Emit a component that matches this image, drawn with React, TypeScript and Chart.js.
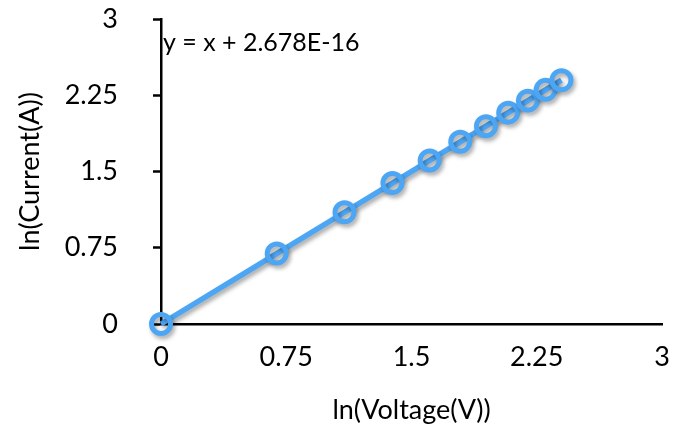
import React, { useEffect, useRef } from "react";
import { Chart, registerables } from "chart.js";

Chart.register(...registerables);

const lnVoltage = [0, 0.693, 1.099, 1.386, 1.609, 1.792, 1.946, 2.079, 2.197, 2.303, 2.398];
const lnCurrent = [0, 0.693, 1.099, 1.386, 1.609, 1.792, 1.946, 2.079, 2.197, 2.303, 2.398];
const tickValues = [0, 0.75, 1.5, 2.25, 3];
const tickLabels = ["0", "0.75", "1.5", "2.25", "3"];
const equationText = "y = x + 2.678E-16";
const xTitle = "ln(Voltage(V))";
const yTitle = "ln(Current(A))";

const FONT = "Lato, 'Open Sans', sans-serif";
const BLUE = "#4DA6F4";

const labelFor = (v: number) => {
  const i = tickValues.findIndex((t) => Math.abs(t - v) < 1e-9);
  return i >= 0 ? tickLabels[i] : "";
};

export default function App() {
  const ref = useRef<HTMLCanvasElement>(null);
  useEffect(() => {
    document.body.style.margin = "0";
    const canvas = ref.current!;
    const shadowPlugin = {
      id: "shadow",
      beforeDatasetDraw(chart: any) {
        const c = chart.ctx;
        c.save();
        c.shadowColor = "rgba(0,0,0,0.35)";
        c.shadowBlur = 4;
        c.shadowOffsetX = 2;
        c.shadowOffsetY = 3;
      },
      afterDatasetDraw(chart: any) {
        chart.ctx.restore();
      },
    };
    const eqPlugin = {
      id: "eq",
      afterDraw(chart: any) {
        const c = chart.ctx;
        c.save();
        c.font = `25px ${FONT}`;
        c.fillStyle = "#000";
        c.textBaseline = "middle";
        c.textAlign = "left";
        c.fillText(equationText, chart.chartArea.left + 2, chart.chartArea.top + 24);
        c.restore();
      },
    };
    const chart = new Chart(canvas, {
      type: "scatter",
      data: {
        datasets: [
          {
            data: lnVoltage.map((x, i) => ({ x, y: lnCurrent[i] })),
            showLine: true,
            clip: false,
            borderColor: BLUE,
            borderWidth: 5.5,
            pointRadius: 9.5,
            pointBorderWidth: 5,
            pointBorderColor: BLUE,
            pointBackgroundColor: "rgba(0,0,0,0)",
          },
        ],
      },
      plugins: [shadowPlugin, eqPlugin],
      options: {
        responsive: false,
        animation: false,
        layout: { autoPadding: false, padding: { top: 19, right: 20, left: 0, bottom: 0 } },
        plugins: { legend: { display: false }, tooltip: { enabled: false } },
        scales: {
          x: {
            type: "linear",
            min: 0,
            max: 3,
            afterBuildTicks: (s: any) => {
              s.ticks = tickValues.map((v) => ({ value: v }));
            },
            afterFit: (s: any) => {
              s.height = 112;
              s.paddingLeft = 0;
              s.paddingRight = 0;
            },
            border: { color: "#000", width: 2.5 },
            grid: { display: true, drawOnChartArea: false, drawTicks: false },
            ticks: {
              padding: 17,
              color: "#000",
              font: { family: FONT, size: 27 },
              callback: (v: any) => labelFor(Number(v)),
            },
            title: {
              display: true,
              text: xTitle,
              color: "#000",
              font: { family: FONT, size: 27 },
              padding: { top: 0, bottom: 10 },
            },
          },
          y: {
            type: "linear",
            min: 0,
            max: 3,
            afterBuildTicks: (s: any) => {
              s.ticks = tickValues.map((v) => ({ value: v }));
            },
            afterFit: (s: any) => {
              s.width = 161;
              s.paddingTop = 0;
              s.paddingBottom = 0;
            },
            border: { color: "#000", width: 2.5 },
            grid: {
              display: true,
              drawOnChartArea: false,
              drawTicks: true,
              tickLength: 8,
              tickWidth: 2.5,
              tickColor: "#000",
            },
            ticks: {
              padding: 35,
              color: "#000",
              font: { family: FONT, size: 27 },
              callback: (v: any) => labelFor(Number(v)),
            },
            title: {
              display: true,
              text: yTitle,
              color: "#000",
              font: { family: FONT, size: 27 },
              padding: { top: 14, bottom: 0 },
            },
          },
        },
      } as any,
    });
    return () => chart.destroy();
  }, []);
  return <canvas ref={ref} width={682} height={436} style={{ display: "block" }} />;
}
